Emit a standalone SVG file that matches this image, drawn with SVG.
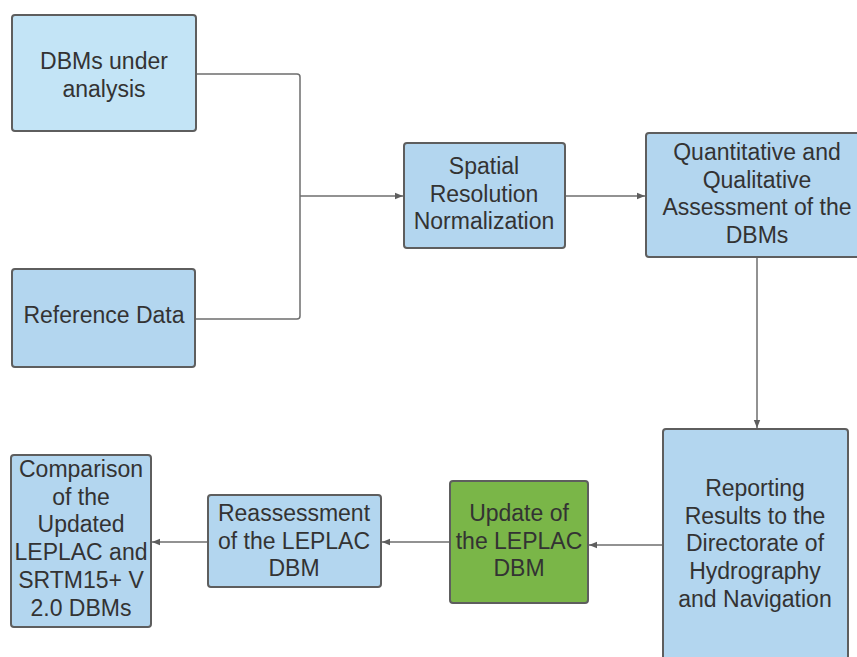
<svg xmlns="http://www.w3.org/2000/svg" width="857" height="657" viewBox="0 0 857 657">
<defs>
<marker id="ah" viewBox="0 0 10 10" refX="10" refY="5" markerWidth="8" markerHeight="8" markerUnits="userSpaceOnUse" orient="auto">
<path d="M0,1 L10,5 L0,9 z" fill="#5e5e5e"/>
</marker>
<style>
.box{stroke:#5e5e5e;stroke-width:2;}
.b{fill:#b3d6ef;}
.l{fill:#c3e4f6;}
.g{fill:#7ab648;}
text{font-family:"Liberation Sans",Arial,sans-serif;font-size:23px;fill:#333;text-anchor:middle;}
.c{fill:none;stroke:#6e6e6e;stroke-width:1.5;}
</style>
</defs>
<rect width="857" height="657" fill="#fff"/>
<g id="connectors">
<path class="c" d="M196,74 H297 Q300,74 300,77 V196"/>
<path class="c" d="M195,319 H297 Q300,319 300,316 V196"/>
<path class="c" d="M300,196 H403" marker-end="url(#ah)"/>
<path class="c" d="M565,196 H645" marker-end="url(#ah)"/>
<path class="c" d="M757,258 V428" marker-end="url(#ah)"/>
<path class="c" d="M663,545 H589" marker-end="url(#ah)"/>
<path class="c" d="M450,542 H382" marker-end="url(#ah)"/>
<path class="c" d="M208,542 H152" marker-end="url(#ah)"/>
</g>
<g id="dbms">
<rect class="box l" x="12" y="15" width="184" height="116" rx="3"/>
<text x="104" y="69">DBMs under</text>
<text x="104" y="97">analysis</text>
</g>
<g id="reference">
<rect class="box b" x="12" y="269" width="183" height="98" rx="3"/>
<text x="104" y="323">Reference Data</text>
</g>
<g id="spatial">
<rect class="box b" x="404" y="143" width="161" height="105" rx="3"/>
<text x="484" y="174">Spatial</text>
<text x="484" y="202">Resolution</text>
<text x="484" y="229">Normalization</text>
</g>
<g id="assessment">
<rect class="box b" x="646" y="133" width="220" height="124" rx="3"/>
<text x="757" y="160">Quantitative and</text>
<text x="757" y="188">Qualitative</text>
<text x="757" y="215">Assessment of the</text>
<text x="757" y="243">DBMs</text>
</g>
<g id="reporting">
<rect class="box b" x="663" y="429" width="185" height="240" rx="3"/>
<text x="755" y="496">Reporting</text>
<text x="755" y="524">Results to the</text>
<text x="755" y="551">Directorate of</text>
<text x="755" y="579">Hydrography</text>
<text x="755" y="607">and Navigation</text>
</g>
<g id="update">
<rect class="box g" x="450" y="481" width="138" height="122" rx="3"/>
<text x="519" y="521">Update of</text>
<text x="519" y="549">the LEPLAC</text>
<text x="519" y="576">DBM</text>
</g>
<g id="reassessment">
<rect class="box b" x="208" y="495" width="173" height="92" rx="3"/>
<text x="294" y="521">Reassessment</text>
<text x="294" y="549">of the LEPLAC</text>
<text x="294" y="576">DBM</text>
</g>
<g id="comparison">
<rect class="box b" x="11" y="455" width="140" height="172" rx="3"/>
<text x="81" y="477">Comparison</text>
<text x="81" y="505">of the</text>
<text x="81" y="532">Updated</text>
<text x="81" y="560">LEPLAC and</text>
<text x="81" y="588">SRTM15+ V</text>
<text x="81" y="616">2.0 DBMs</text>
</g>
</svg>
